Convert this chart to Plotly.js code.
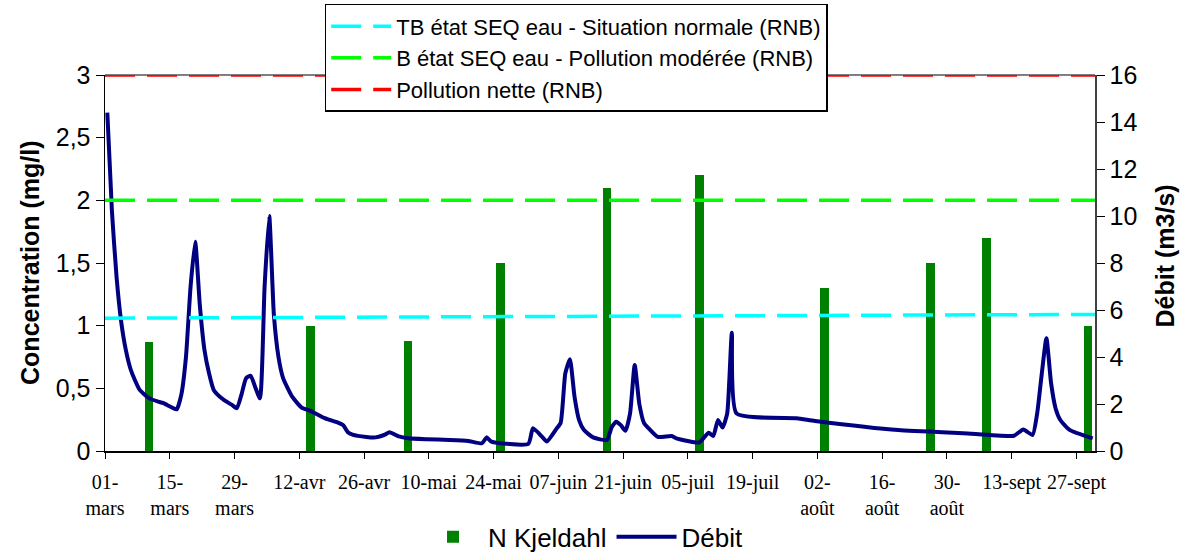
<!DOCTYPE html>
<html><head><meta charset="utf-8">
<script src="https://cdn.plot.ly/plotly-3.0.1.min.js"></script>
<style>html,body{margin:0;padding:0;background:#fff}#chart{width:1185px;height:554px}</style>
</head><body><div id="chart"></div>
<script>
// N Kjeldahl sampling dates and concentrations (mg/l)
const sampleDates = ['2007-03-10','2007-04-14','2007-05-05','2007-05-25','2007-06-17','2007-07-07','2007-08-03','2007-08-26','2007-09-07','2007-09-29'];
const nKjeldahl = [0.87, 1.0, 0.88, 1.5, 2.1, 2.2, 1.3, 1.5, 1.7, 1.0];

// Débit (m3/s)
const debitDates = ['2007-03-01','2007-03-02','2007-03-03','2007-03-04','2007-03-05','2007-03-06','2007-03-07','2007-03-08','2007-03-10','2007-03-12',
'2007-03-13','2007-03-14','2007-03-15','2007-03-16','2007-03-17','2007-03-18','2007-03-19','2007-03-20','2007-03-21','2007-03-22',
'2007-03-23','2007-03-24','2007-03-26','2007-03-28','2007-03-29','2007-03-30','2007-03-31','2007-04-01','2007-04-02','2007-04-03',
'2007-04-04','2007-04-05','2007-04-06','2007-04-07','2007-04-08','2007-04-10','2007-04-12','2007-04-14','2007-04-17','2007-04-20',
'2007-04-21','2007-04-22','2007-04-23','2007-04-26','2007-04-28','2007-04-30','2007-05-01','2007-05-03','2007-05-05','2007-05-09',
'2007-05-14','2007-05-18','2007-05-21','2007-05-22','2007-05-23','2007-05-31','2007-06-01','2007-06-03','2007-06-04','2007-06-06',
'2007-06-07','2007-06-08','2007-06-09','2007-06-10','2007-06-11','2007-06-12','2007-06-14','2007-06-17','2007-06-18','2007-06-19',
'2007-06-20','2007-06-21','2007-06-22','2007-06-23','2007-06-24','2007-06-25','2007-06-26','2007-06-28','2007-07-01','2007-07-02',
'2007-07-07','2007-07-09','2007-07-10','2007-07-11','2007-07-12','2007-07-13','2007-07-14','2007-07-15','2007-07-28','2007-08-01',
'2007-08-19','2007-09-02','2007-09-13','2007-09-15','2007-09-17','2007-09-18','2007-09-19','2007-09-20','2007-09-21','2007-09-22',
'2007-09-23','2007-09-25','2007-09-30'];
const debit = [14.4, 10.2, 7.4, 5.5, 4.3, 3.5, 3.0, 2.6, 2.25, 2.1,
2.05, 1.95, 1.85, 1.77, 2.4, 4.0, 7.0, 8.9, 6.2, 4.3,
3.3, 2.6, 2.2, 1.95, 1.82, 2.4, 3.1, 3.2, 2.7, 2.24,
7.0, 10.0, 5.8, 4.0, 3.1, 2.3, 1.85, 1.7, 1.4, 1.2,
1.1, 0.8, 0.7, 0.6, 0.58, 0.7, 0.8, 0.62, 0.54, 0.5,
0.47, 0.43, 0.33, 0.58, 0.4, 0.3, 0.97, 0.6, 0.4, 0.92,
1.2, 3.3, 3.9, 2.3, 1.3, 0.9, 0.58, 0.47, 1.0, 1.25,
1.1, 0.86, 1.6, 3.66, 2.0, 1.2, 0.97, 0.6, 0.64, 0.54,
0.37, 0.78, 0.64, 1.32, 1.0, 1.6, 5.03, 1.6, 1.39, 1.28,
0.89, 0.76, 0.65, 0.92, 0.68, 1.6, 3.3, 4.8, 2.9, 1.8,
1.32, 0.9, 0.54];

// Reference thresholds (mg/l)
const thresholdDates = ['2007-03-01','2007-10-01'];
const tbNormale = [1.06, 1.09];
const bModeree = [2.0, 2.0];
const pollutionNette = [3.0, 3.0];

// Axis ticks and titles
const tickDates = ['2007-03-01','2007-03-15','2007-03-29','2007-04-12','2007-04-26','2007-05-10','2007-05-24','2007-06-07',
'2007-06-21','2007-07-05','2007-07-19','2007-08-02','2007-08-16','2007-08-30','2007-09-13','2007-09-27'];
const tickLabels = ['01-<br>mars','15-<br>mars','29-<br>mars','12-avr','26-avr','10-mai','24-mai','07-juin',
'21-juin','05-juil','19-juil','02-<br>août','16-<br>août','30-<br>août','13-sept','27-sept'];
const xRange = ['2007-03-01','2007-10-01'];
const leftTitle = 'Concentration (mg/l)';
const rightTitle = 'Débit (m3/s)';

const SANS = 'Liberation Sans, Arial, sans-serif';
const SERIF = 'Liberation Serif, Times New Roman, serif';
const noon = d => d + ' 12:00';
const DAY = 86400000;

const traces = [
  {type:'bar', name:'N Kjeldahl', x: sampleDates.map(noon), y: nKjeldahl, yaxis:'y', xaxis:'x',
   width: sampleDates.map(() => 1.9*DAY), marker:{color:'#008000', line:{width:0}}, legend:'legend2'},
  {type:'scatter', mode:'lines', name:'Débit', x: debitDates.map(noon), y: debit, yaxis:'y2', xaxis:'x',
   line:{color:'#000080', width:4, shape:'spline', smoothing:0.5}, legend:'legend2'},
  {type:'scatter', mode:'lines', name:'TB état SEQ eau - Situation normale (RNB)', x: thresholdDates, y: tbNormale,
   yaxis:'y3', line:{color:'#00FFFF', width:3.5, dash:'30px,12px'}, legend:'legend'},
  {type:'scatter', mode:'lines', name:'B état SEQ eau - Pollution modérée (RNB)', x: thresholdDates, y: bModeree,
   yaxis:'y3', line:{color:'#00FF00', width:3.5, dash:'30px,12px'}, legend:'legend'},
  {type:'scatter', mode:'lines', name:'Pollution nette (RNB)', x: thresholdDates, y: pollutionNette,
   yaxis:'y3', line:{color:'#FF0000', width:3.5, dash:'30px,12px'}, legend:'legend', cliponaxis:false}
];

const layout = {
  width:1185, height:554,
  margin:{l:105, r:90, t:75, b:103, autoexpand:false},
  paper_bgcolor:'#fff', plot_bgcolor:'#fff',
  separators:', ',
  font:{family:SANS, color:'#000', size:22},
  showlegend:true,
  bargap:0,
  xaxis:{type:'date', range:xRange, tickmode:'array', tickvals:tickDates, ticktext:tickLabels,
    ticks:'outside', ticklen:6, tickcolor:'#000', showline:true, linecolor:'#000', linewidth:1.5,
    showgrid:false, zeroline:false, tickfont:{family:SERIF, size:20, color:'#000'}, ticklabelstandoff:6, automargin:false},
  yaxis:{range:[0,3], dtick:0.5, ticks:'outside', ticklen:8, tickcolor:'#000', showline:true, linecolor:'#000', linewidth:1.5,
    showgrid:false, zeroline:false, tickfont:{family:SANS, size:25}, automargin:false},
  yaxis2:{range:[0,16], dtick:2, side:'right', overlaying:'y', ticks:'outside', ticklen:8, tickcolor:'#000',
    showline:true, linecolor:'#404040', linewidth:1.5, showgrid:false, zeroline:false, tickfont:{family:SANS, size:25}, automargin:false},
  yaxis3:{range:[0,3], overlaying:'y', visible:false},
  legend:{xref:'container', yref:'container', x:0.274, xanchor:'left', y:0.993, yanchor:'top', bgcolor:'#fff', bordercolor:'#000', borderwidth:1.5,
    font:{family:SANS, size:22}, traceorder:'normal', tracegroupgap:0, itemwidth:60},
  legend2:{xref:'container', yref:'container', orientation:'h', x:0.492, xanchor:'center', y:0.031, yanchor:'middle', bgcolor:'rgba(0,0,0,0)',
    font:{family:SANS, size:26}, traceorder:'normal', itemwidth:60},
  annotations:[
    {text:'<b>'+leftTitle+'</b>', xref:'paper', yref:'paper', x:-0.0758, y:0.5, textangle:-90, showarrow:false,
     xanchor:'center', yanchor:'middle', font:{family:SANS, size:25, color:'#000'}},
    {text:'<b>'+rightTitle+'</b>', xref:'paper', yref:'paper', x:1.0707, y:0.52, textangle:-90, showarrow:false,
     xanchor:'center', yanchor:'middle', font:{family:SANS, size:25, color:'#000'}}
  ],
  shapes:[{type:'line', xref:'paper', yref:'paper', x0:0, x1:1, y0:1, y1:1, line:{color:'#808080', width:2}, layer:'below'}]
};

Plotly.newPlot('chart', traces, layout, {displayModeBar:false, staticPlot:true});
</script></body></html>
